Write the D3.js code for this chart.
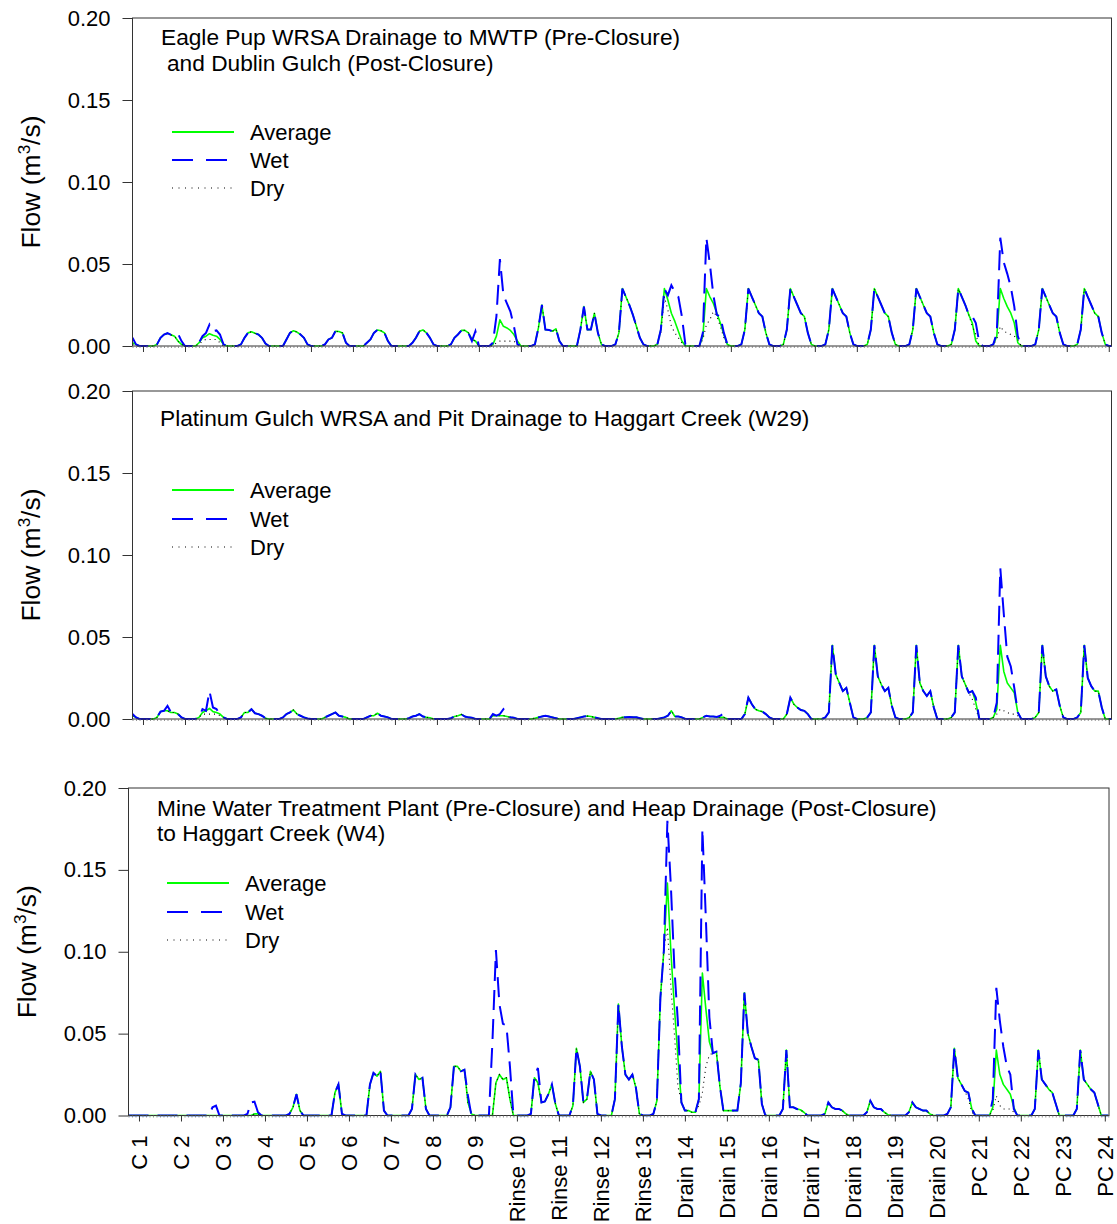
<!DOCTYPE html>
<html><head><meta charset="utf-8">
<script src="https://cdn.jsdelivr.net/npm/d3@7"></script>
<style>
body{margin:0;background:#fff}
svg{display:block}
text{font-family:"Liberation Sans",Arial,Helvetica,sans-serif;fill:#000}
</style>
</head><body>
<svg id="chart" width="1117" height="1224"></svg>
<script>
// ---------------- data ----------------
const yearLabels = ["C 1","C 2","O 3","O 4","O 5","O 6","O 7","O 8","O 9","Rinse 10","Rinse 11","Rinse 12","Rinse 13","Drain 14","Drain 15","Drain 16","Drain 17","Drain 18","Drain 19","Drain 20","PC 21","PC 22","PC 23","PC 24"];
const yearTicks = [1,2,3,4,5,6,7,8,9,10,11,12,13,14,15,16,17,18,19,20,21,22,23,24];
const yTickValues = [0, 0.05, 0.10, 0.15, 0.20];
const firstMonthPos = 0.75;   // position (in year-tick units) of the first monthly value
const seriesNames = ["Average", "Wet", "Dry"];
const eagleTitle = ["Eagle Pup WRSA Drainage to MWTP (Pre-Closure)", "and Dublin Gulch (Post-Closure)"];
const platinumTitle = ["Platinum Gulch WRSA and Pit Drainage to Haggart Creek (W29)"];
const mwtpTitle = ["Mine Water Treatment Plant (Pre-Closure) and Heap Drainage (Post-Closure)", "to Haggart Creek (W4)"];

// monthly flows (m3/s); first 3 values, then one row of 12 per year segment, then 2 final values
const eagleAverage = [
 [0.002,0.001,0],
 [0,0,0,0,0.001,0.005,0.007,0.0077,0.0068,0.006,0.003,0.001],
 [0,0,0,0,0.002,0.005,0.006,0.0075,0.0065,0.006,0.004,0.001],
 [0,0,0,0,0.001,0.005,0.008,0.0087,0.0078,0.007,0.005,0.0015],
 [0,0,0,0,0,0.004,0.008,0.0093,0.0085,0.007,0.005,0.001],
 [0,0,0,0,0.001,0.004,0.005,0.009,0.0088,0.008,0.002,0],
 [0,0,0,0,0.002,0.004,0.008,0.0098,0.0093,0.008,0.003,0],
 [0,0,0,0,0,0.002,0.005,0.009,0.0098,0.008,0.005,0.001],
 [0,0,0,0,0.001,0.005,0.007,0.0095,0.0095,0.008,0.004,0.003],
 [0,0,0,0,0.001,0.006,0.016,0.012,0.011,0.0095,0.007,0.003],
 [0,0,0,0,0.001,0.011,0.025,0.010,0.0098,0.009,0.0105,0.003],
 [0,0,0,0,0,0.010,0.024,0.010,0.010,0.020,0.008,0.001],
 [0,0,0,0.001,0.008,0.035,0.030,0.025,0.019,0.012,0.005,0.001],
 [0,0,0,0.001,0.010,0.035,0.028,0.020,0.015,0.009,0.003,0],
 [0,0,0,0,0.006,0.035,0.030,0.026,0.020,0.014,0.007,0.001],
 [0,0,0,0.001,0.010,0.035,0.030,0.025,0.020,0.018,0.008,0.001],
 [0,0,0,0.001,0.010,0.035,0.030,0.025,0.020,0.018,0.008,0.001],
 [0,0,0,0.001,0.010,0.035,0.030,0.025,0.020,0.018,0.008,0.001],
 [0,0,0,0.001,0.010,0.035,0.030,0.025,0.020,0.018,0.008,0.001],
 [0,0,0,0.001,0.010,0.035,0.030,0.025,0.020,0.018,0.008,0.001],
 [0,0,0,0.001,0.010,0.035,0.030,0.025,0.019,0.014,0.003,0],
 [0,0,0,0.001,0.006,0.035,0.029,0.024,0.020,0.014,0.002,0],
 [0,0,0,0.001,0.010,0.035,0.030,0.025,0.020,0.018,0.008,0.001],
 [0,0,0,0.001,0.010,0.035,0.030,0.025,0.020,0.018,0.008,0.001],
 [0,0]
].flat();
const eagleWet = [
 [0.005,0.001,0],
 [0,0,0,0,0.001,0.005,0.007,0.0078,0.0068,0.007,0.0075,0.003],
 [0,0,0,0,0.002,0.006,0.008,0.013,0.009,0.0095,0.007,0.001],
 [0,0,0,0,0.001,0.005,0.008,0.0087,0.0078,0.007,0.005,0.0015],
 [0,0,0,0,0,0.004,0.008,0.0093,0.0085,0.007,0.005,0.001],
 [0,0,0,0,0.001,0.004,0.005,0.009,0.0088,0.008,0.002,0],
 [0,0,0,0,0.002,0.004,0.008,0.0098,0.0093,0.008,0.003,0],
 [0,0,0,0,0,0.002,0.005,0.009,0.0098,0.008,0.005,0.001],
 [0,0,0,0,0.001,0.005,0.007,0.0095,0.0095,0.008,0.003,0.009],
 [0,0,0,0,0.002,0.018,0.053,0.031,0.026,0.021,0.012,0.001],
 [0,0,0,0,0.001,0.011,0.025,0.010,0.0098,0.009,0.0105,0.003],
 [0,0,0,0,0,0.010,0.024,0.010,0.010,0.020,0.008,0.001],
 [0,0,0,0.001,0.008,0.035,0.030,0.025,0.019,0.012,0.005,0.001],
 [0,0,0,0.001,0.010,0.035,0.031,0.037,0.033,0.030,0.018,0.001],
 [0,0,0,0,0.008,0.066,0.050,0.031,0.019,0.018,0.008,0.001],
 [0,0,0,0.001,0.010,0.035,0.030,0.025,0.020,0.018,0.008,0.001],
 [0,0,0,0.001,0.010,0.035,0.030,0.025,0.020,0.018,0.008,0.001],
 [0,0,0,0.001,0.010,0.035,0.030,0.025,0.020,0.018,0.008,0.001],
 [0,0,0,0.001,0.010,0.035,0.030,0.025,0.020,0.018,0.008,0.001],
 [0,0,0,0.001,0.010,0.035,0.030,0.025,0.020,0.018,0.008,0.001],
 [0,0,0,0.001,0.010,0.035,0.030,0.025,0.019,0.018,0.014,0.002],
 [0,0,0,0.001,0.008,0.066,0.051,0.044,0.036,0.024,0.006,0],
 [0,0,0,0.001,0.010,0.035,0.030,0.025,0.020,0.018,0.008,0.001],
 [0,0,0,0.001,0.010,0.035,0.030,0.025,0.020,0.018,0.008,0.001],
 [0,0]
].flat();
const eagleDry = [
 [0.001,0,0],
 [0,0,0,0,0.001,0.005,0.007,0.0077,0.0068,0.006,0.003,0.001],
 [0,0,0,0,0.001,0.003,0.004,0.004,0.004,0.004,0.002,0],
 [0,0,0,0,0.001,0.005,0.008,0.0087,0.0078,0.007,0.005,0.0015],
 [0,0,0,0,0,0.004,0.008,0.0093,0.0085,0.007,0.005,0.001],
 [0,0,0,0,0.001,0.004,0.005,0.009,0.0088,0.008,0.002,0],
 [0,0,0,0,0.002,0.004,0.008,0.0098,0.0093,0.008,0.003,0],
 [0,0,0,0,0,0.002,0.005,0.009,0.0098,0.008,0.005,0.001],
 [0,0,0,0,0.001,0.005,0.007,0.0095,0.0095,0.008,0.004,0.003],
 [0,0,0,0,0,0.002,0.003,0.003,0.003,0.003,0.003,0.001],
 [0,0,0,0,0.001,0.011,0.025,0.010,0.0098,0.009,0.0105,0.003],
 [0,0,0,0,0,0.010,0.024,0.010,0.010,0.020,0.008,0.001],
 [0,0,0,0.001,0.008,0.035,0.030,0.025,0.019,0.012,0.005,0.001],
 [0,0,0,0.001,0.008,0.030,0.022,0.012,0.008,0.005,0.002,0],
 [0,0,0,0,0.004,0.013,0.016,0.021,0.018,0.012,0.005,0],
 [0,0,0,0.001,0.010,0.035,0.030,0.025,0.020,0.018,0.008,0.001],
 [0,0,0,0.001,0.010,0.035,0.030,0.025,0.020,0.018,0.008,0.001],
 [0,0,0,0.001,0.010,0.035,0.030,0.025,0.020,0.018,0.008,0.001],
 [0,0,0,0.001,0.010,0.035,0.030,0.025,0.020,0.018,0.008,0.001],
 [0,0,0,0.001,0.010,0.035,0.030,0.025,0.020,0.018,0.008,0.001],
 [0,0,0,0.001,0.010,0.035,0.030,0.025,0.019,0.012,0.007,0],
 [0,0,0,0.001,0.004,0.012,0.009,0.008,0.007,0.006,0.004,0],
 [0,0,0,0.001,0.010,0.035,0.030,0.025,0.020,0.018,0.008,0.001],
 [0,0,0,0.001,0.010,0.035,0.030,0.025,0.020,0.018,0.008,0.001],
 [0,0]
].flat();

const platinumAverage = [
 [0.002,0.001,0],
 [0,0,0,0,0.001,0.0045,0.005,0.005,0.004,0.004,0.003,0.001],
 [0,0,0,0,0.001,0.004,0.005,0.0065,0.0045,0.004,0.003,0.001],
 [0,0,0,0,0.001,0.004,0.004,0.006,0.0035,0.003,0.002,0.0005],
 [0,0,0,0,0.001,0.003,0.004,0.0055,0.003,0.002,0.001,0.0003],
 [0,0,0,0,0.001,0.002,0.003,0.004,0.002,0.0015,0.001,0],
 [0,0,0,0,0.001,0.002,0.002,0.0035,0.002,0.0015,0.001,0],
 [0,0,0,0,0.0005,0.0015,0.002,0.003,0.0015,0.001,0.0008,0],
 [0,0,0,0,0.0005,0.0015,0.002,0.0028,0.0015,0.001,0.0008,0],
 [0,0,0,0,0.002,0.002,0.002,0.002,0.0015,0.001,0.0008,0],
 [0,0,0,0,0.0005,0.001,0.0015,0.002,0.0015,0.001,0.0005,0],
 [0,0,0,0,0.0005,0.001,0.0015,0.0018,0.0015,0.001,0.0005,0],
 [0,0,0,0,0.0005,0.001,0.001,0.0012,0.001,0.001,0.0005,0],
 [0,0,0,0,0.0005,0.001,0.002,0.005,0.0015,0.0015,0.001,0],
 [0,0,0,0,0.001,0.002,0.0015,0.0015,0.0012,0.001,0.001,0],
 [0,0,0,0,0.003,0.013,0.009,0.006,0.005,0.0045,0.003,0.001],
 [0,0,0,0,0.003,0.013,0.009,0.007,0.0055,0.005,0.003,0],
 [0,0,0,0.001,0.004,0.045,0.027,0.022,0.017,0.019,0.010,0.001],
 [0,0,0,0.001,0.004,0.045,0.026,0.021,0.017,0.019,0.008,0.001],
 [0,0,0,0.001,0.004,0.045,0.022,0.017,0.014,0.017,0.007,0],
 [0,0,0,0.001,0.004,0.045,0.026,0.021,0.016,0.017,0.010,0],
 [0,0,0,0.001,0.006,0.045,0.029,0.022,0.019,0.016,0.004,0],
 [0,0,0,0.001,0.004,0.045,0.026,0.020,0.017,0.018,0.008,0.001],
 [0,0,0,0.001,0.004,0.045,0.025,0.020,0.017,0.017,0.007,0],
 [0,0]
].flat();
const platinumWet = [
 [0.003,0.001,0],
 [0,0,0,0,0.001,0.0045,0.005,0.008,0.004,0.004,0.003,0.001],
 [0,0,0,0,0.001,0.006,0.005,0.017,0.007,0.006,0.003,0.001],
 [0,0,0,0,0.001,0.004,0.004,0.006,0.0035,0.003,0.002,0.0005],
 [0,0,0,0,0.001,0.003,0.004,0.0055,0.003,0.002,0.001,0.0003],
 [0,0,0,0,0.001,0.002,0.003,0.004,0.002,0.0015,0.001,0],
 [0,0,0,0,0.001,0.002,0.002,0.0035,0.002,0.0015,0.001,0],
 [0,0,0,0,0.0005,0.0015,0.002,0.003,0.0015,0.001,0.0008,0],
 [0,0,0,0,0.0005,0.0015,0.002,0.0028,0.0015,0.001,0.0008,0],
 [0,0,0,0,0.003,0.002,0.003,0.006,0.003,0.001,0.0008,0],
 [0,0,0,0,0.0005,0.001,0.0015,0.002,0.0015,0.001,0.0005,0],
 [0,0,0,0,0.0005,0.001,0.0015,0.0018,0.0015,0.001,0.0005,0],
 [0,0,0,0,0.0005,0.001,0.001,0.0012,0.001,0.001,0.0005,0],
 [0,0,0,0,0.0005,0.001,0.002,0.005,0.0015,0.0015,0.001,0],
 [0,0,0,0,0.001,0.002,0.0015,0.0015,0.0012,0.002,0.0035,0],
 [0,0,0,0,0.003,0.013,0.009,0.006,0.005,0.0045,0.003,0.001],
 [0,0,0,0,0.003,0.013,0.009,0.007,0.0055,0.005,0.003,0],
 [0,0,0,0.001,0.004,0.045,0.027,0.022,0.017,0.019,0.010,0.001],
 [0,0,0,0.001,0.004,0.045,0.026,0.021,0.017,0.019,0.008,0.001],
 [0,0,0,0.001,0.004,0.045,0.022,0.017,0.014,0.017,0.007,0],
 [0,0,0,0.001,0.004,0.045,0.026,0.021,0.016,0.017,0.013,0],
 [0,0,0,0.001,0.010,0.092,0.064,0.038,0.032,0.019,0.004,0],
 [0,0,0,0.001,0.004,0.045,0.026,0.020,0.017,0.018,0.008,0.001],
 [0,0,0,0.001,0.004,0.045,0.025,0.020,0.017,0.017,0.007,0],
 [0,0]
].flat();
const platinumDry = [
 [0.002,0.001,0],
 [0,0,0,0,0.001,0.0045,0.005,0.005,0.004,0.004,0.003,0.001],
 [0,0,0,0,0.001,0.003,0.003,0.003,0.003,0.003,0.002,0.001],
 [0,0,0,0,0.001,0.004,0.004,0.006,0.0035,0.003,0.002,0.0005],
 [0,0,0,0,0.001,0.003,0.004,0.0055,0.003,0.002,0.001,0.0003],
 [0,0,0,0,0.001,0.002,0.003,0.004,0.002,0.0015,0.001,0],
 [0,0,0,0,0.001,0.002,0.002,0.0035,0.002,0.0015,0.001,0],
 [0,0,0,0,0.0005,0.0015,0.002,0.003,0.0015,0.001,0.0008,0],
 [0,0,0,0,0.0005,0.0015,0.002,0.0028,0.0015,0.001,0.0008,0],
 [0,0,0,0,0.002,0.002,0.002,0.002,0.0015,0.001,0.0008,0],
 [0,0,0,0,0.0005,0.001,0.0015,0.002,0.0015,0.001,0.0005,0],
 [0,0,0,0,0.0005,0.001,0.0015,0.0018,0.0015,0.001,0.0005,0],
 [0,0,0,0,0.0005,0.001,0.001,0.0012,0.001,0.001,0.0005,0],
 [0,0,0,0,0.0005,0.001,0.002,0.005,0.0015,0.0015,0.001,0],
 [0,0,0,0,0.001,0.002,0.0015,0.0015,0.0012,0.001,0.001,0],
 [0,0,0,0,0.003,0.013,0.009,0.006,0.005,0.0045,0.003,0.001],
 [0,0,0,0,0.003,0.013,0.009,0.007,0.0055,0.005,0.003,0],
 [0,0,0,0.001,0.004,0.045,0.027,0.022,0.017,0.019,0.010,0.001],
 [0,0,0,0.001,0.004,0.045,0.026,0.021,0.017,0.019,0.008,0.001],
 [0,0,0,0.001,0.004,0.045,0.022,0.017,0.014,0.017,0.007,0],
 [0,0,0,0.001,0.004,0.045,0.026,0.021,0.016,0.012,0.006,0],
 [0,0,0,0.001,0.003,0.006,0.005,0.004,0.003,0.003,0.002,0],
 [0,0,0,0.001,0.004,0.045,0.026,0.020,0.017,0.018,0.008,0.001],
 [0,0,0,0.001,0.004,0.045,0.025,0.020,0.017,0.017,0.007,0],
 [0,0]
].flat();

const mwtpAverage = [
 [0,0,0],
 [0,0,0,0,0,0,0,0,0,0,0,0],
 [0,0,0,0,0,0,0,0,0,0,0,0],
 [0,0,0,0,0,0,0,0,0,0.001,0.001,0],
 [0,0,0,0,0,0,0,0.001,0.005,0.013,0.003,0],
 [0,0,0,0,0,0,0,0,0.014,0.019,0.001,0],
 [0,0,0,0,0,0,0.019,0.026,0.024,0.027,0.003,0],
 [0,0,0,0,0,0,0.004,0.025,0.022,0.023,0.004,0],
 [0,0,0,0,0,0.005,0.030,0.030,0.027,0.028,0.008,0.001],
 [0,0,0,0,0,0,0.020,0.025,0.022,0.023,0.010,0],
 [0,0,0,0,0.001,0.023,0.020,0.008,0.0086,0.013,0.019,0.007],
 [0,0,0,0,0.006,0.041,0.030,0.008,0.010,0.027,0.022,0.001],
 [0,0,0,0,0.010,0.068,0.042,0.025,0.022,0.025,0.017,0.001],
 [0,0,0,0.001,0.009,0.072,0.101,0.142,0.100,0.066,0.036,0.008],
 [0.003,0.003,0.002,0.002,0.010,0.087,0.065,0.045,0.038,0.039,0.018,0.003],
 [0.003,0.003,0.003,0.003,0.020,0.075,0.050,0.042,0.035,0.034,0.007,0],
 [0,0,0,0,0.004,0.040,0.005,0.005,0.004,0.0035,0.002,0],
 [0,0,0,0,0.001,0.008,0.005,0.004,0.004,0.003,0.001,0],
 [0,0,0,0,0.002,0.009,0.005,0.004,0.004,0.002,0.0005,0],
 [0,0,0,0,0.002,0.008,0.005,0.004,0.003,0.003,0.001,0],
 [0,0,0,0.001,0.005,0.041,0.023,0.019,0.015,0.014,0.004,0],
 [0,0,0,0,0.005,0.040,0.025,0.019,0.016,0.013,0.005,0],
 [0,0,0,0,0.004,0.040,0.022,0.019,0.016,0.014,0.007,0],
 [0,0,0,0,0.004,0.040,0.022,0.019,0.016,0.014,0.007,0],
 [0,0]
].flat();
const mwtpWet = [
 [0,0,0],
 [0,0,0,0,0,0,0,0,0,0,0,0],
 [0,0,0,0,0,0,0,0,0,0.005,0.006,0],
 [0,0,0,0,0,0,0,0.001,0.008,0.0085,0.002,0],
 [0,0,0,0,0,0,0,0.001,0.005,0.013,0.003,0],
 [0,0,0,0,0,0,0,0,0.014,0.019,0.001,0],
 [0,0,0,0,0,0,0.019,0.026,0.024,0.027,0.003,0],
 [0,0,0,0,0,0,0.004,0.025,0.022,0.023,0.004,0],
 [0,0,0,0,0,0.005,0.030,0.030,0.027,0.028,0.012,0],
 [0,0,0,0,0,0.045,0.101,0.068,0.056,0.055,0.030,0],
 [0,0,0,0,0.001,0.024,0.029,0.008,0.0086,0.013,0.019,0.007],
 [0,0,0,0,0.006,0.041,0.030,0.008,0.010,0.027,0.022,0.001],
 [0,0,0,0,0.010,0.068,0.042,0.025,0.022,0.025,0.017,0.001],
 [0,0,0,0.001,0.009,0.072,0.101,0.180,0.140,0.090,0.057,0.008],
 [0.003,0.003,0.002,0.002,0.010,0.175,0.120,0.060,0.038,0.039,0.018,0.003],
 [0.003,0.003,0.003,0.003,0.020,0.075,0.050,0.042,0.035,0.034,0.007,0],
 [0,0,0,0,0.004,0.040,0.005,0.005,0.004,0.0035,0.002,0],
 [0,0,0,0,0.001,0.008,0.005,0.004,0.004,0.003,0.001,0],
 [0,0,0,0,0.002,0.009,0.005,0.004,0.004,0.002,0.0005,0],
 [0,0,0,0,0.002,0.008,0.005,0.004,0.003,0.003,0.001,0],
 [0,0,0,0.001,0.005,0.041,0.023,0.019,0.015,0.014,0.004,0],
 [0,0,0,0,0.010,0.078,0.058,0.042,0.030,0.025,0.004,0],
 [0,0,0,0,0.004,0.040,0.022,0.019,0.016,0.014,0.007,0],
 [0,0,0,0,0.004,0.040,0.022,0.019,0.016,0.014,0.007,0],
 [0,0]
].flat();
const mwtpDry = [
 [0,0,0],
 [0,0,0,0,0,0,0,0,0,0,0,0],
 [0,0,0,0,0,0,0,0,0,0,0,0],
 [0,0,0,0,0,0,0,0,0,0.001,0.001,0],
 [0,0,0,0,0,0,0,0.001,0.005,0.013,0.003,0],
 [0,0,0,0,0,0,0,0,0.014,0.019,0.001,0],
 [0,0,0,0,0,0,0.019,0.026,0.024,0.027,0.003,0],
 [0,0,0,0,0,0,0.004,0.025,0.022,0.023,0.004,0],
 [0,0,0,0,0,0.005,0.030,0.030,0.027,0.028,0.008,0.001],
 [0,0,0,0,0,0,0.020,0.025,0.022,0.023,0.010,0],
 [0,0,0,0,0.001,0.023,0.020,0.008,0.0086,0.013,0.019,0.007],
 [0,0,0,0,0.006,0.041,0.030,0.008,0.010,0.027,0.022,0.001],
 [0,0,0,0,0.010,0.068,0.042,0.025,0.022,0.025,0.017,0.001],
 [0,0,0,0.001,0.009,0.072,0.101,0.115,0.079,0.050,0.018,0.008],
 [0.003,0.003,0.002,0.002,0.006,0.014,0.030,0.037,0.038,0.039,0.018,0.003],
 [0.003,0.003,0.003,0.003,0.020,0.075,0.050,0.042,0.035,0.034,0.007,0],
 [0,0,0,0,0.004,0.040,0.005,0.005,0.004,0.0035,0.002,0],
 [0,0,0,0,0.001,0.008,0.005,0.004,0.004,0.003,0.001,0],
 [0,0,0,0,0.002,0.009,0.005,0.004,0.004,0.002,0.0005,0],
 [0,0,0,0,0.002,0.008,0.005,0.004,0.003,0.003,0.001,0],
 [0,0,0,0.001,0.005,0.041,0.023,0.019,0.015,0.010,0.002,0],
 [0,0,0,0,0.003,0.012,0.006,0.004,0.004,0.004,0.002,0],
 [0,0,0,0,0.004,0.040,0.022,0.019,0.016,0.014,0.007,0],
 [0,0,0,0,0.004,0.040,0.022,0.019,0.016,0.014,0.007,0],
 [0,0]
].flat();

// ---------------- drawing ----------------
const svg = d3.select("#chart");
const avgColor = "#00ff00", wetColor = "#0000ff", dryColor = "#000000", axisColor = "#333";

const panels = [
  {avg: eagleAverage, wet: eagleWet, dry: eagleDry, title: eagleTitle,
   left: 132.5, right: 1111.5, top: 18, bottom: 346, xMax: 24.065,
   titleX: [161, 167], titleY: [45, 71], legendX: 172, legendY: [132, 160, 188], yTitleX: 40, labels: false},
  {avg: platinumAverage, wet: platinumWet, dry: platinumDry, title: platinumTitle,
   left: 132.5, right: 1111.5, top: 391, bottom: 719, xMax: 24.065,
   titleX: [160], titleY: [426], legendX: 172, legendY: [490, 519, 547], yTitleX: 40, labels: false},
  {avg: mwtpAverage, wet: mwtpWet, dry: mwtpDry, title: mwtpTitle,
   left: 128.5, right: 1109, top: 788, bottom: 1115.5, xMax: 24.1,
   titleX: [157, 157], titleY: [816, 841], legendX: 167, legendY: [883, 912, 940], yTitleX: 36, labels: true}
];

panels.forEach((p, pi) => {
  const x = d3.scaleLinear().domain([firstMonthPos, p.xMax]).range([p.left, p.right]);
  const y = d3.scaleLinear().domain([0, 0.2]).range([p.bottom, p.top]);
  const g = svg.append("g");

  const clipId = "clip" + pi;
  svg.append("clipPath").attr("id", clipId).append("rect")
    .attr("x", p.left).attr("y", p.top - 2).attr("width", p.right - p.left).attr("height", p.bottom - p.top + 3);

  const line = d3.line().x((d, i) => x(firstMonthPos + i / 12)).y(d => y(d));
  const plot = g.append("g").attr("clip-path", `url(#${clipId})`);
  plot.append("path").datum(p.avg).attr("d", line).attr("fill", "none")
    .attr("stroke", avgColor).attr("stroke-width", 1.6).attr("stroke-linejoin", "round");
  plot.append("path").datum(p.dry).attr("d", line).attr("fill", "none")
    .attr("stroke", dryColor).attr("stroke-width", 1.1).attr("stroke-dasharray", "1,4");
  plot.append("path").datum(p.wet).attr("d", line).attr("fill", "none")
    .attr("stroke", wetColor).attr("stroke-width", 2).attr("stroke-dasharray", "20,9");

  // frame
  g.append("rect").attr("x", p.left).attr("y", p.top).attr("width", p.right - p.left).attr("height", p.bottom - p.top)
    .attr("fill", "none").attr("stroke", axisColor).attr("stroke-width", 1);

  // y axis
  const yAxis = d3.axisLeft(y).tickValues(yTickValues).tickFormat(d3.format(".2f")).tickSize(10).tickSizeOuter(0).tickPadding(12);
  const ya = g.append("g").attr("transform", `translate(${p.left},0)`).call(yAxis);
  ya.select(".domain").remove();
  ya.selectAll("line").attr("stroke", axisColor);
  ya.selectAll("text").style("font-size", "22px").style("font-family", '"Liberation Sans", Arial, sans-serif').attr("fill", "#000");

  // x minor ticks (monthly)
  const monthTicks = d3.range(0, 281).map(i => firstMonthPos + i / 12).filter(v => v <= p.xMax);
  const xMinor = d3.axisBottom(x).tickValues(monthTicks).tickSize(2).tickSizeOuter(0).tickFormat("");
  const xm = g.append("g").attr("transform", `translate(0,${p.bottom})`).call(xMinor);
  xm.select(".domain").remove();
  xm.selectAll("line").attr("stroke", "#777").attr("stroke-width", 0.8);

  // x major ticks
  const xAxis = d3.axisBottom(x).tickValues(yearTicks).tickSize(6).tickSizeOuter(0)
    .tickFormat(p.labels ? ((d, i) => yearLabels[i]) : "");
  const xa = g.append("g").attr("transform", `translate(0,${p.bottom})`).call(xAxis);
  xa.select(".domain").remove();
  xa.selectAll("line").attr("stroke", axisColor);
  if (p.labels) {
    xa.selectAll("text")
      .attr("transform", "rotate(-90)")
      .attr("x", -20).attr("y", 0).attr("dy", "0.36em")
      .style("text-anchor", "end").style("font-size", "22px")
      .style("font-family", '"Liberation Sans", Arial, sans-serif').attr("fill", "#000");
  }

  // y title
  const yt = g.append("text")
    .attr("transform", `translate(${p.yTitleX},${(p.top + p.bottom) / 2}) rotate(-90)`)
    .attr("text-anchor", "middle").style("font-size", "26.5px");
  yt.append("tspan").text("Flow (m");
  yt.append("tspan").text("3").style("font-size", "17px").attr("dy", -10);
  yt.append("tspan").text("/s)").attr("dy", 10);

  // title
  p.title.forEach((t, k) => {
    g.append("text").attr("x", p.titleX[k]).attr("y", p.titleY[k]).style("font-size", "22.7px").text(t);
  });

  // legend
  const legendStroke = [avgColor, wetColor, dryColor];
  const legendDash = [null, "21,13", "1,5.5"];
  const legendLen = [62, 55, 62];
  const legendWidth = [1.8, 2, 1.1];
  seriesNames.forEach((name, k) => {
    const ly = p.legendY[k];
    g.append("line").attr("x1", p.legendX).attr("x2", p.legendX + legendLen[k])
      .attr("y1", ly).attr("y2", ly)
      .attr("stroke", legendStroke[k]).attr("stroke-width", legendWidth[k])
      .attr("stroke-dasharray", legendDash[k]);
    g.append("text").attr("x", p.legendX + 78).attr("y", ly + 7.5).style("font-size", "22px").text(name);
  });
});
</script>
</body></html>
